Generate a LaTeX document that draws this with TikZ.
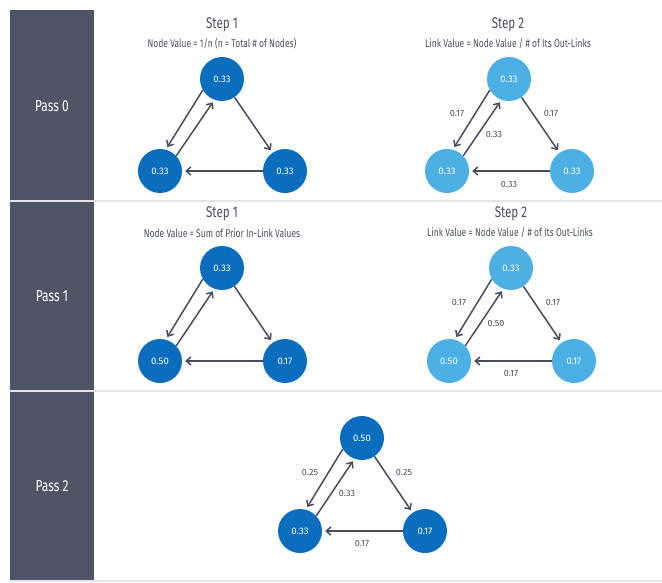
\documentclass[tikz,border=0pt]{standalone}
\usepackage{fontspec}
\setmainfont[FakeStretch=0.75]{Fira Sans}
\newfontfamily\numfont{Fira Sans}
\usetikzlibrary{calc,arrows.meta}
\definecolor{barcol}{HTML}{4F5566}
\definecolor{sepcol}{HTML}{E4E5EA}
\definecolor{dkblue}{HTML}{0A6DBE}
\definecolor{ltblue}{HTML}{4CB0E5}
\definecolor{linkcol}{HTML}{474D5D}
\definecolor{txtcol}{HTML}{4A4F5C}

\begin{document}
\begin{tikzpicture}
  [x=1pt,y=-1pt,
   dnode/.style={circle,fill=dkblue,minimum size=44pt,inner sep=0pt,text=white,font=\numfont\fontsize{9.5}{11}\selectfont},
   lnode/.style={dnode,fill=ltblue},
   link/.style={draw=linkcol,line width=1.5pt,-{Straight Barb[length=4.5pt,width=8pt]},shorten >=3pt},
   elabel/.style={text=txtcol,inner sep=0pt,font=\numfont\fontsize{9}{10}\selectfont},
   steptitle/.style={text=txtcol,inner sep=0pt,font=\fontsize{15.5}{18}\selectfont},
   subtitle/.style={text=txtcol,inner sep=0pt,font=\fontsize{11.3}{13}\selectfont},
   passlabel/.style={text=white,inner sep=0pt,font=\fontsize{16}{18}\selectfont}]
  \useasboundingbox (0,0) rectangle (662,582);

  % left bars and separators
  \fill[barcol] (10,10) rectangle (94,200);
  \fill[barcol] (10,202) rectangle (94,390);
  \fill[barcol] (10,392) rectangle (94,580);
  \fill[sepcol] (10,200) rectangle (662,202);
  \fill[sepcol] (10,390) rectangle (662,392);
  \fill[sepcol] (10,580) rectangle (662,582);

  \node[passlabel] (p0) at (52,106) {Pass 0};
  \node[passlabel] (p1) at (52,296) {Pass 1};
  \node[passlabel] (p2) at (52,486) {Pass 2};

  % headings
  \node[steptitle] (t1) at (222,25) {Step 1};
  \node[subtitle]  (s1) at (222,44) {Node Value = 1/n (n = Total \# of Nodes)};
  \node[steptitle] (t2) at (508,25) {Step 2};
  \node[subtitle]  (s2) at (508,44) {Link Value = Node Value / \# of Its Out-Links};
  \node[steptitle] (t3) at (222,214) {Step 1};
  \node[subtitle]  (s3) at (222,233) {Node Value = Sum of Prior In-Link Values};
  \node[steptitle] (t4) at (511,214) {Step 2};
  \node[subtitle]  (s4) at (510,233) {Link Value = Node Value / \# of Its Out-Links};

  % pass 0
  \node[dnode] (a1) at (222,79)  {0.33};
  \node[dnode] (a2) at (160,171) {0.33};
  \node[dnode] (a3) at (285,171) {0.33};
  \node[lnode] (b1) at (509,79)  {0.33};
  \node[lnode] (b2) at (447,171) {0.33};
  \node[lnode] (b3) at (572,171) {0.33};
  % pass 1
  \node[dnode] (c1) at (222,268) {0.33};
  \node[dnode] (c2) at (160,361) {0.50};
  \node[dnode] (c3) at (285,361) {0.17};
  \node[lnode] (d1) at (511,268) {0.33};
  \node[lnode] (d2) at (449,361) {0.50};
  \node[lnode] (d3) at (574,361) {0.17};
  % pass 2
  \node[dnode] (e1) at (362,438) {0.50};
  \node[dnode] (e2) at (300,531) {0.33};
  \node[dnode] (e3) at (425,531) {0.17};

  \foreach \g in {a,b,c,d,e}{
    \draw[link] (\g1.210) -- (\g2.75);
    \draw[link] (\g2.43) -- (\g1.250);
    \draw[link] (\g1) -- (\g3);
    \draw[link] (\g3) -- (\g2);
  }

  \foreach \g/\l/\i/\r/\b in {b/0.17/0.33/0.17/0.33,d/0.17/0.50/0.17/0.17,e/0.25/0.33/0.25/0.17}{
    \node[elabel] (\g4) at ($(\g1)+(-52,34)$) {\l};
    \node[elabel] (\g5) at ($(\g1)+(-15,55)$) {\i};
    \node[elabel] (\g6) at ($(\g1)+(42,34)$)  {\r};
    \node[elabel] (\g7) at ($(\g1)+(0,105)$)  {\b};
  }
\end{tikzpicture}
\end{document}
